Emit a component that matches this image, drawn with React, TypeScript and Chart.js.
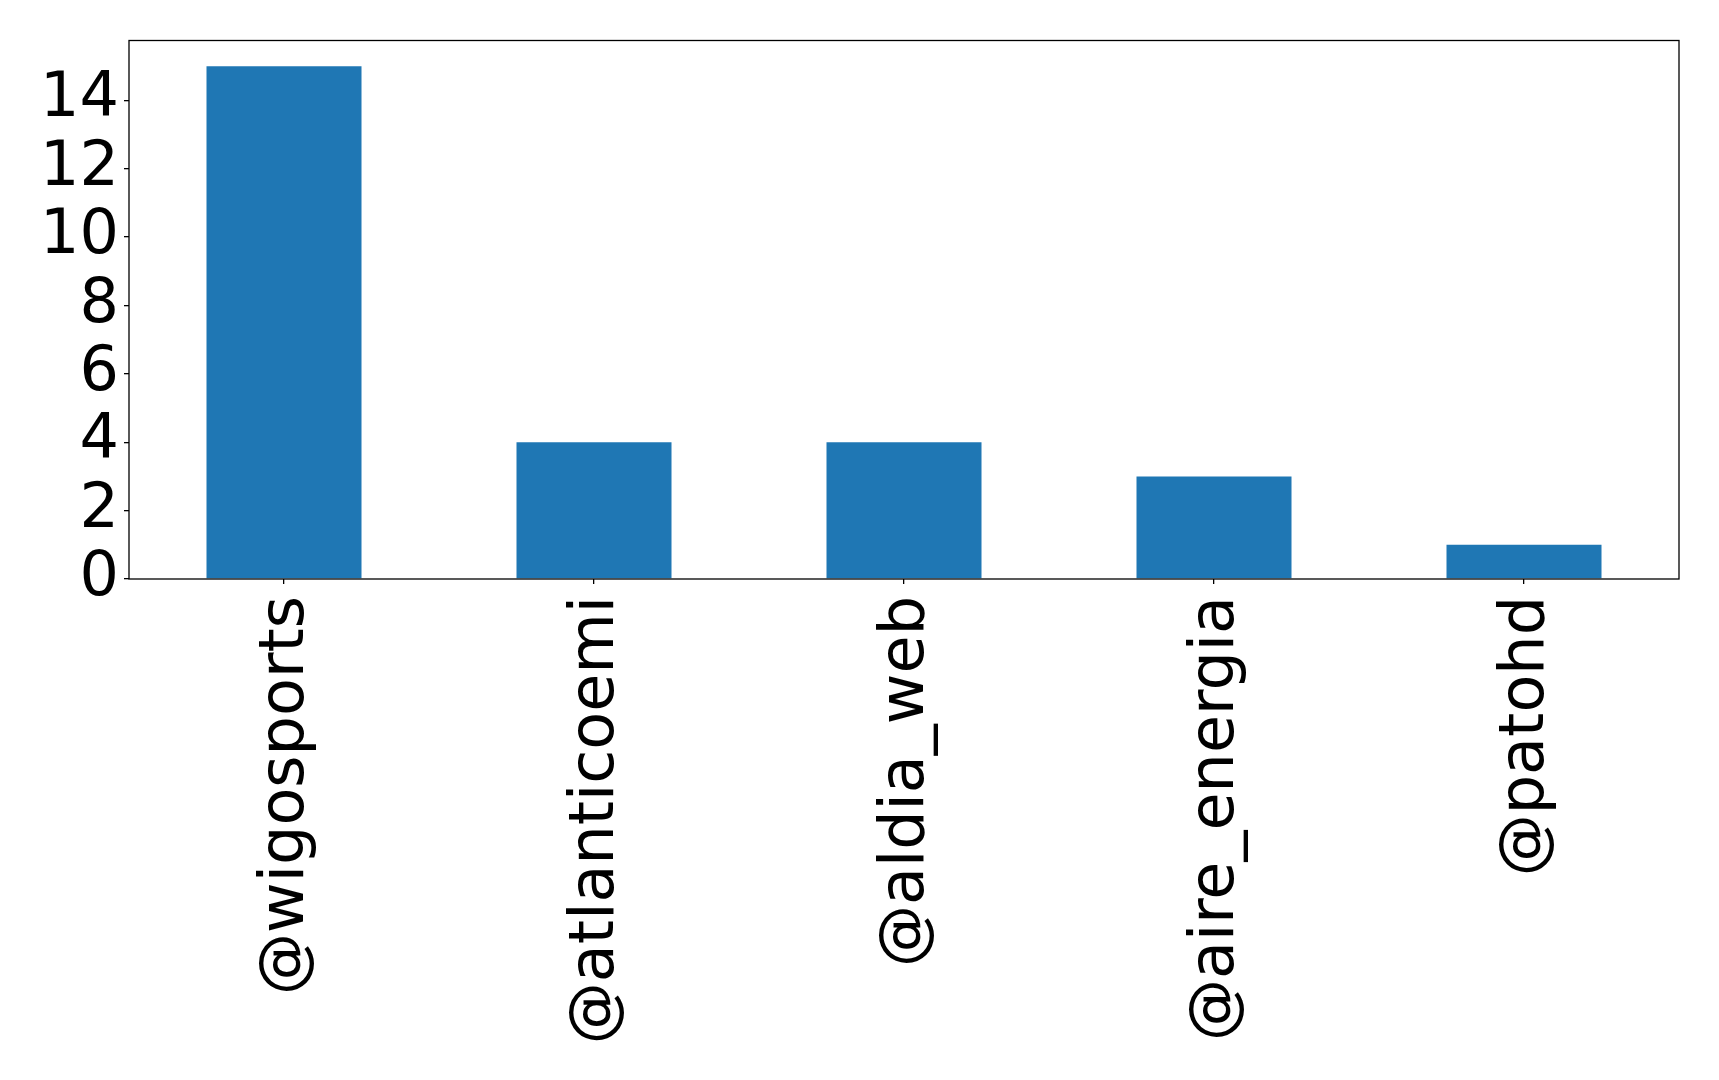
import React, { useEffect, useRef } from "react";
import { Chart, registerables } from "chart.js";

Chart.register(...registerables);

const categories = ["@wigosports", "@atlanticoemi", "@aldia_web", "@aire_energia", "@patohd"];
const counts = [15, 4, 4, 3, 1];
const yTicks = [0, 2, 4, 6, 8, 10, 12, 14];
const yMax = 15.75;

const FONT = "'DejaVu Sans', sans-serif";
const W = 1719;
const H = 1080;

const framePlugin = {
  id: "frame",
  afterDatasetsDraw(chart: any) {
    const { ctx, chartArea } = chart;
    ctx.save();
    ctx.strokeStyle = "#000";
    ctx.lineWidth = 1.3;
    ctx.strokeRect(chartArea.left, chartArea.top, chartArea.right - chartArea.left, chartArea.bottom - chartArea.top);
    ctx.restore();
  },
};

export default function App() {
  const ref = useRef<HTMLCanvasElement>(null);
  useEffect(() => {
    if (!ref.current) return;
    const chart = new Chart(ref.current, {
      type: "bar",
      data: {
        labels: categories,
        datasets: [
          {
            data: counts,
            backgroundColor: "#1f77b4",
            borderWidth: 0,
            categoryPercentage: 1,
            barPercentage: 0.5,
          },
        ],
      },
      options: {
        responsive: false,
        animation: false,
        devicePixelRatio: 1,
        layout: { padding: { top: 40.5, right: 40, left: 0, bottom: 0 } },
        plugins: { legend: { display: false }, tooltip: { enabled: false } },
        scales: {
          x: {
            offset: true,
            grid: { offset: false, drawOnChartArea: false, drawTicks: true, tickLength: 5, color: "#000", lineWidth: 1.3 },
            border: { display: false },
            ticks: {
              maxRotation: 90,
              minRotation: 90,
              autoSkip: false,
              padding: 12,
              labelOffset: 3,
              color: "#000",
              font: { family: FONT, size: 62 },
            },
            afterFit(axis: any) {
              axis.height = 501;
              axis.paddingLeft = 0;
              axis.paddingRight = 0;
            },
          },
          y: {
            min: 0,
            max: yMax,
            grid: { drawOnChartArea: false, drawTicks: true, tickLength: 5, color: "#000", lineWidth: 1.3 },
            border: { display: false },
            afterBuildTicks(axis: any) {
              axis.ticks = yTicks.map((v) => ({ value: v }));
            },
            ticks: {
              autoSkip: false,
              padding: 5,
              color: "#000",
              font: { family: FONT, size: 62 },
            },
            afterFit(axis: any) {
              axis.width = 129;
              axis.paddingTop = 0;
              axis.paddingBottom = 0;
            },
          },
        },
      },
      plugins: [framePlugin],
    });
    return () => chart.destroy();
  }, []);
  return (
    <div style={{ position: "fixed", left: 0, top: 0, width: W, height: H, background: "#fff" }}>
      <canvas ref={ref} width={W} height={H} style={{ width: W, height: H, display: "block" }} />
    </div>
  );
}
